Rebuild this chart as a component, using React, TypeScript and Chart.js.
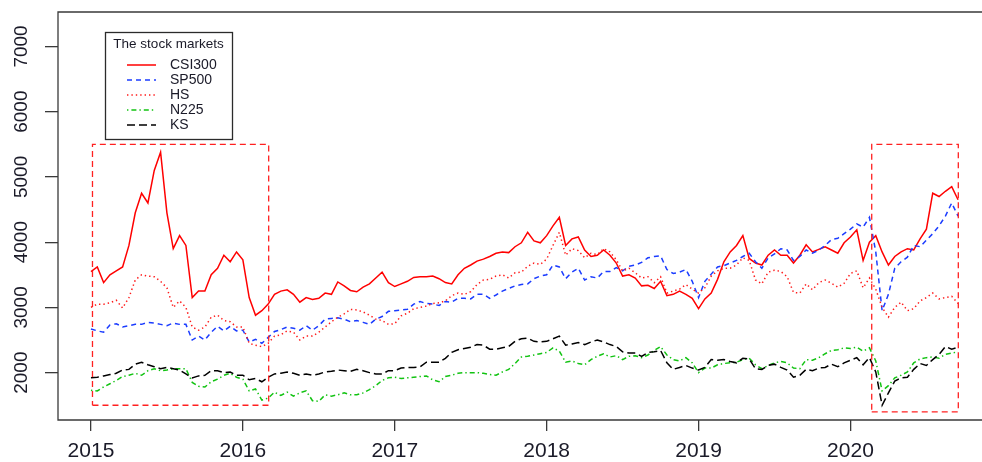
import React, { useEffect, useRef } from "react";
import { Chart, registerables } from "chart.js";

Chart.register(...registerables);

// ---- data (semi-monthly readings, Jan 2015 - Sep 2020) ----
const START_YEAR = 2015;
const SAMPLES_PER_YEAR = 24;

const X_TICKS = [2015, 2016, 2017, 2018, 2019, 2020];
const Y_TICKS = [2000, 3000, 4000, 5000, 6000, 7000];

const CSI300 = [
  3550, 3620, 3380, 3500, 3560, 3620, 3950, 4450, 4750, 4600, 5100, 5380,
  4450, 3900, 4100, 3950, 3150, 3250, 3250, 3500, 3600, 3800, 3700, 3850,
  3730, 3150, 2880, 2950, 3050, 3200, 3250, 3270, 3200, 3080, 3150, 3120,
  3140, 3220, 3200, 3390, 3330, 3260, 3240, 3310, 3360, 3450, 3540, 3380,
  3320, 3360, 3400, 3460, 3470, 3470, 3480, 3440, 3380, 3360, 3500, 3600,
  3650, 3710, 3740, 3780, 3830, 3850, 3840, 3930, 3990, 4150, 4020, 3990,
  4100, 4250, 4380, 3950, 4050, 4080, 3880, 3780, 3800, 3880, 3800, 3680,
  3480, 3500, 3450, 3330, 3340, 3290, 3400, 3180, 3200, 3250, 3200, 3140,
  2980, 3130, 3220, 3430, 3700, 3850, 3950, 4100, 3750, 3680, 3650, 3800,
  3880, 3800, 3800, 3680, 3800, 3960, 3850, 3890, 3930, 3880, 3830, 3990,
  4080, 4190, 3720, 4000, 4100, 3850, 3650, 3780, 3850, 3900, 3880, 4050,
  4200, 4750, 4700, 4780, 4850, 4650,
];

const SP500 = [
  2670, 2640, 2620, 2730, 2750, 2700, 2720, 2740, 2740, 2770, 2760, 2740,
  2720, 2760, 2740, 2740, 2500, 2560, 2500, 2620, 2710, 2640, 2710, 2640,
  2650, 2470, 2510, 2450, 2540, 2630, 2660, 2700, 2680, 2650, 2720, 2650,
  2720, 2820, 2830, 2840, 2820, 2780, 2800, 2770, 2740, 2820, 2860, 2940,
  2950, 2960, 2970, 3050, 3090, 3060, 3050, 3030, 3090, 3080, 3140, 3140,
  3130, 3200, 3200, 3140, 3190, 3250, 3290, 3330, 3350, 3360, 3440, 3480,
  3500, 3650, 3620, 3440, 3540, 3600, 3420, 3470, 3450, 3550, 3550, 3610,
  3560, 3630, 3650, 3690, 3760, 3780, 3790, 3580, 3520, 3540, 3580, 3400,
  3150, 3400, 3510, 3620, 3640, 3680, 3720, 3780, 3830, 3700, 3600, 3760,
  3820, 3900, 3880, 3720, 3780, 3880, 3830, 3880, 3950, 4040, 4060, 4130,
  4200, 4280, 4230, 4380, 3850, 2950, 3200, 3600, 3700, 3770, 3950, 3930,
  4030, 4130, 4250, 4400, 4600, 4400,
];

const HS = [
  3000, 3050, 3050, 3070, 3110, 2990, 3150, 3420, 3500, 3480, 3470, 3400,
  3300, 3000, 3100, 3000, 2700, 2650, 2700, 2850, 2880, 2800, 2780, 2700,
  2700, 2450, 2420, 2400, 2450, 2560, 2580, 2640, 2620, 2500, 2560, 2560,
  2620, 2700, 2780, 2850, 2900, 2970, 2960, 2930, 2880, 2820, 2800, 2740,
  2750, 2870, 2910, 2980, 3000, 3020, 3060, 3070, 3100, 3180, 3220, 3200,
  3240, 3350, 3420, 3430, 3480, 3500, 3450, 3530, 3540, 3630, 3680, 3660,
  3740, 3950, 4150, 3800, 3900, 3870, 3760, 3830, 3810, 3900, 3850, 3730,
  3560, 3600, 3530, 3450, 3470, 3380, 3470, 3220, 3250, 3280, 3350, 3280,
  3220, 3300, 3480, 3560, 3600, 3600, 3650, 3760, 3720, 3420, 3360, 3540,
  3570, 3550, 3470, 3230, 3220, 3360, 3270, 3380, 3420, 3370, 3310, 3370,
  3520, 3560, 3300, 3450, 3280, 3000, 2850, 3000, 3080, 2950, 2980, 3100,
  3150, 3220, 3130, 3150, 3170, 3060,
];

const N225 = [
  1730, 1720, 1780, 1830, 1880, 1940, 1960, 1990, 1960, 2030, 2060, 2030,
  2040, 2060, 2060, 2060, 1850, 1790, 1780, 1860, 1900, 1960, 1990, 1930,
  1900, 1720, 1750, 1580, 1610, 1700, 1650, 1700, 1640, 1690, 1720, 1570,
  1560, 1660, 1640, 1660, 1690, 1660, 1660, 1690, 1740, 1800, 1880, 1920,
  1930, 1910, 1920, 1930, 1940, 1950, 1890, 1860, 1940, 1960, 1990, 2000,
  2000, 2000, 1990, 1970, 1960, 2010, 2050, 2140, 2240, 2250, 2270, 2290,
  2310, 2380, 2330, 2160, 2180, 2140, 2120, 2200, 2250, 2290, 2240, 2260,
  2200, 2250, 2260, 2230, 2270, 2340, 2400, 2270, 2200, 2180, 2230, 2150,
  2000, 2070, 2070, 2120, 2140, 2150, 2160, 2200, 2220, 2120, 2060, 2110,
  2150, 2170, 2150, 2070, 2060, 2200, 2190, 2230, 2290, 2340, 2350, 2380,
  2370, 2390, 2330, 2380, 2180, 1720, 1800, 1920, 1960, 2010, 2150, 2210,
  2230, 2240, 2220, 2280, 2300, 2320,
];

const KS = [
  1920, 1930, 1950, 1970, 1990, 2040, 2050, 2130, 2160, 2120, 2090, 2060,
  2080, 2060, 2040, 1980, 1920, 1950, 1960, 2030, 2030, 2000, 2010, 1960,
  1960, 1890, 1910, 1860, 1930, 1980, 1990, 2010, 1990, 1960, 1980, 1960,
  1980, 2010, 2020, 2040, 2030, 2020, 2050, 2030, 2000, 1980, 1980, 2030,
  2030, 2070, 2080, 2080, 2090, 2160, 2160, 2160, 2220, 2310, 2350, 2370,
  2390, 2430, 2420, 2360, 2360, 2380, 2400, 2480, 2520, 2530, 2480, 2470,
  2480, 2520, 2560, 2420, 2440, 2460, 2430, 2470, 2500, 2470, 2430, 2400,
  2320, 2300, 2300, 2250, 2310, 2320, 2340, 2150, 2050, 2080, 2110, 2070,
  2040, 2080, 2200, 2190, 2200, 2170, 2150, 2220, 2210, 2060, 2050, 2110,
  2130, 2080, 2040, 1930, 1960, 2050, 2030, 2070, 2080, 2130, 2090, 2150,
  2190, 2230, 2120, 2230, 2010, 1500, 1690, 1870, 1920, 1930, 2050, 2140,
  2110, 2200, 2280, 2400, 2360, 2390,
];

const SERIES_NAMES = ["CSI300", "SP500", "HS", "N225", "KS"];
const SERIES_VALUES = [CSI300, SP500, HS, N225, KS];

// highlighted periods (dashed red boxes), in data units
const HIGHLIGHT_X = [[2015.01, 2016.17], [2020.14, 2020.71]];
const HIGHLIGHT_Y = [[1500, 5500], [1400, 5500]];

const LEGEND_TITLE = "The stock markets";

// ---- styles ----
const SERIES_COLORS = ["#ff0000", "#1b3cff", "#ff1a1a", "#12c312", "#000000"];
const SERIES_DASH = [[], [5, 4], [1.4, 3], [1.4, 3, 5, 3], [8, 4]];
const FONT = '"Liberation Sans", Arial, sans-serif';
const TEXT_COLOR = "#1a1a28";

const frameAndLegend = {
  id: "frameAndLegend",
  afterDraw(chart: any) {
    const { ctx, chartArea } = chart;
    ctx.save();
    // plot frame (right side runs off the canvas like the original)
    ctx.strokeStyle = "#3a3a3a";
    ctx.lineWidth = 1.3;
    ctx.beginPath();
    ctx.moveTo(chartArea.right + 4, chartArea.top);
    ctx.lineTo(chartArea.left, chartArea.top);
    ctx.lineTo(chartArea.left, chartArea.bottom);
    ctx.lineTo(chartArea.right + 4, chartArea.bottom);
    ctx.stroke();

    // legend
    const bx = 105.5, by = 32.5, bw = 127, bh = 107;
    ctx.fillStyle = "#ffffff";
    ctx.fillRect(bx, by, bw, bh);
    ctx.strokeStyle = "#2b2b2b";
    ctx.lineWidth = 1.3;
    ctx.strokeRect(bx, by, bw, bh);
    ctx.fillStyle = TEXT_COLOR;
    ctx.font = `13.5px ${FONT}`;
    ctx.textAlign = "center";
    ctx.textBaseline = "middle";
    ctx.fillText(LEGEND_TITLE, 168.5, 44.5);
    ctx.textAlign = "left";
    SERIES_NAMES.forEach((name, i) => {
      const y = 65 + i * 15;
      ctx.save();
      ctx.strokeStyle = SERIES_COLORS[i];
      ctx.lineWidth = 1.5;
      ctx.setLineDash(SERIES_DASH[i]);
      ctx.beginPath();
      ctx.moveTo(127, y);
      ctx.lineTo(156, y);
      ctx.stroke();
      ctx.restore();
      ctx.fillStyle = TEXT_COLOR;
      ctx.font = `14px ${FONT}`;
      ctx.fillText(name, 170, y + 0.5);
    });
    ctx.restore();
  },
};

export default function App() {
  const ref = useRef<HTMLCanvasElement | null>(null);

  useEffect(() => {
    if (!ref.current) return;
    const toPoints = (vals: number[]) =>
      vals.map((v, i) => ({ x: START_YEAR + i / SAMPLES_PER_YEAR, y: v }));

    const seriesSets = SERIES_NAMES.map((name, i) => ({
      type: "line" as const,
      label: name,
      data: toPoints(SERIES_VALUES[i]),
      borderColor: SERIES_COLORS[i],
      borderWidth: 1.5,
      borderDash: SERIES_DASH[i],
      pointRadius: 0,
      tension: 0,
      fill: false,
      order: 10 - i,
    }));

    const boxSets = HIGHLIGHT_X.map((xr, k) => {
      const yr = HIGHLIGHT_Y[k];
      return {
        type: "line" as const,
        label: "period " + (k + 1),
        data: [
          { x: xr[0], y: yr[0] },
          { x: xr[1], y: yr[0] },
          { x: xr[1], y: yr[1] },
          { x: xr[0], y: yr[1] },
          { x: xr[0], y: yr[0] },
        ],
        borderColor: "#ff2020",
        borderWidth: 1.3,
        borderDash: [6, 4],
        pointRadius: 0,
        tension: 0,
        fill: false,
        order: 0,
      };
    });

    const chart = new Chart(ref.current, {
      type: "line",
      data: { datasets: [...seriesSets, ...boxSets] as any },
      options: {
        animation: false,
        responsive: false,
        parsing: false as any,
        normalized: true,
        layout: { padding: { top: 12, left: 0, right: 0, bottom: 0 } },
        plugins: { legend: { display: false }, tooltip: { enabled: false } },
        scales: {
          x: {
            type: "linear",
            min: 2014.783,
            max: 2020.866,
            afterBuildTicks: (s: any) => {
              s.ticks = X_TICKS.map((v) => ({ value: v }));
            },
            afterFit: (s: any) => {
              s.height = 42;
              s.paddingLeft = 0;
              s.paddingRight = 0;
            },
            grid: { drawOnChartArea: false, drawTicks: true, tickLength: 11, color: "#3a3a3a", lineWidth: 1.3 },
            border: { display: false },
            ticks: {
              autoSkip: false,
              maxRotation: 0,
              padding: 8,
              color: TEXT_COLOR,
              font: { size: 21, family: FONT },
              callback: (v: any) => String(v),
            },
          },
          y: {
            type: "linear",
            min: 1274,
            max: 7528,
            afterBuildTicks: (s: any) => {
              s.ticks = Y_TICKS.map((v) => ({ value: v }));
            },
            afterFit: (s: any) => {
              s.width = 58;
              s.paddingTop = 0;
              s.paddingBottom = 0;
            },
            grid: { drawOnChartArea: false, drawTicks: true, tickLength: 13, color: "#3a3a3a", lineWidth: 1.3 },
            border: { display: false },
            ticks: {
              autoSkip: false,
              minRotation: 90,
              maxRotation: 90,
              crossAlign: "center",
              padding: 2,
              color: TEXT_COLOR,
              font: { size: 19, family: FONT },
              callback: (v: any) => String(v),
            },
          },
        },
      },
      plugins: [frameAndLegend],
    });
    return () => chart.destroy();
  }, []);

  return (
    <div style={{ position: "fixed", left: 0, top: 0, width: 982, height: 462, background: "#fff" }}>
      <canvas ref={ref} width={982} height={462} style={{ width: 982, height: 462, display: "block" }} />
    </div>
  );
}
